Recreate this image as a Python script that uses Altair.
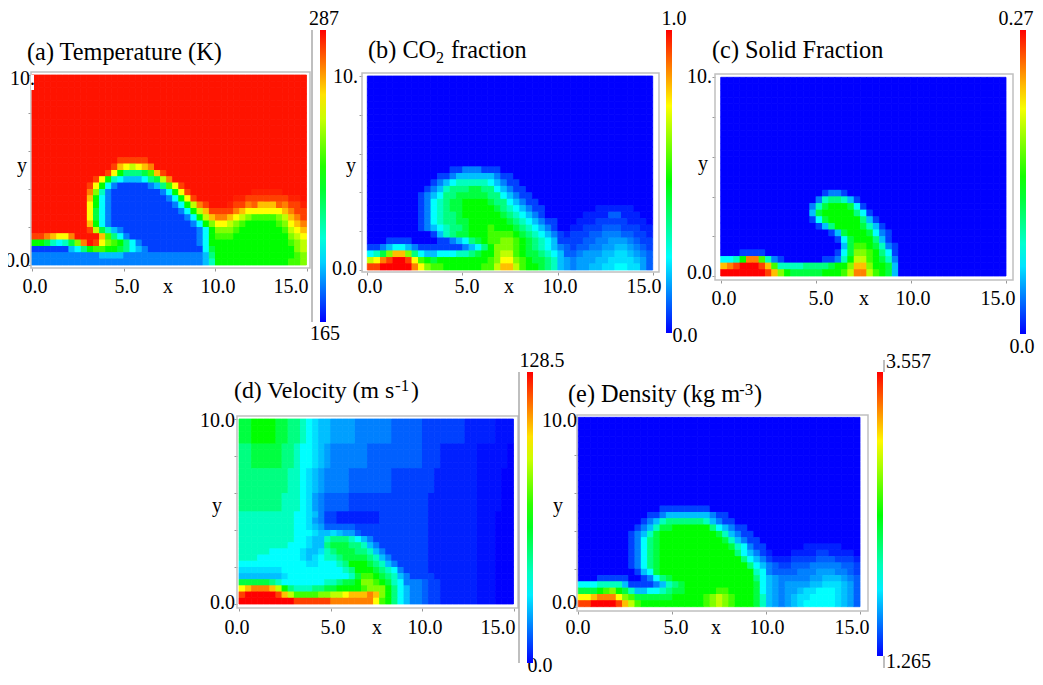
import altair as alt
import pandas as pd

# ---- field values, one character per cell (45 x 30 cells).
# Each character is a position on the panel's colour bar (see LEVELS); top row is y = 10.
TOP_G = "ggggggggggggggg ggggggggggggggg ggggggggggggggg"
TOP_0 = "000000000000000 000000000000000 000000000000000"

temperature_rows = [TOP_G] * 13 + [
    "ggggggggggggggf ffffggggggggggg ggggggggggggggg",
    "gggggggggggggfd cbcdegggggggggg ggggggggggggggg",
    "ggggggggggggfc8 66679dfgggggggg ggggggggggggggg",
    "ggggggggggfc854 333467beggggggg ggggggggggggggg",
    "gggggggggfc8421 11112369cfggggg ggggggggggggggg",
    "gggggggggea5211 111111248cfgggg gggggg^^^^^gggg",
    "gggggggggd84211 1111111248cfggg ggg^^fffffff^^g",
    "gggggggggc84211 11111111248befg gg^ffe!ddd!eff^",
    "gggggggggc74211 111111111248bdf fffedccccccdeff",
    "gggggggggc74211 1111111111248bd eedcba9999abdef",
    "gggggggggd84211 11111111111248a ccba9888889acde",
    "gggggggggfb7532 111111111111248 aaa98888888 9bcd",
    "ffedcceggggd964 211111111111248 999888888888abc",
    "8875457aegfca98 642111111111248 8888888888889ab",
    "111111346899887 643211111111147 8888888888888ab",
    "222222222223333 222222222222236 88888888888889a",
    "222222222222222 222222222222235 88888888888899a",
]

co2_rows = [TOP_0] * 14 + [
    "000000000000011 222111000000000 000000000000000",
    "000000000001123 333332110000000 000000000000000",
    "000000000012345 555543211000000 000000000000000",
    "000000000123566 677664321100000 000000000000000",
    "000000001234667 777766432110000 000000000000000",
    "000000001245677 888876643211000 000000000000000",
    "000000001245677 888887654321100 000000......000",
    "000000001245667 888888765432100 0000....::...00",
    "000000001245667 788888876543211 000...11111...0",
    "000000001234566 788898887654321 00..111:::111..",
    "000000000013567 788899998765432 1.111::222::11.",
    "000111100001123 467899aa9876543 1111::22;;;2:11",
    "112344321111111 23468aaa9876543 2:1::22;;33;2:1",
    "457adda64334445 56788abb9877654 3::2;;;33~~3;2:",
    "bcefggfc9878888 88889acca987765 3;2;;;33~~~~3;:",
    "ffgggggeca99888 88899bddb988765 3;2;;33~~44~~;:",
]

solid_rows = [TOP_0] * 17 + [
    "000000000000000 012210000000000 000000000000000",
    "000000000000000 256653100000000 000000000000000",
    "000000000000002 578887410000000 000000000000000",
    "000000000000003 788888641000000 000000000000000",
    "000000000000001 478888863100000 000000000000000",
    "000000000000000 136888875310000 000000000000000",
    "000000000000000 001378887421000 000000000000000",
    "000000000000000 000147888631000 000000000000000",
    "000000000000000 000037998752100 000000000000000",
    "000111100000000 000147aa9864100 000000000000000",
    "4458ee952100000 011258bb9875200 000000000000000",
    "defgggfd9555566 66788adda887300 000000000000000",
    "gggggggfda87777 78889beeb987300 000000000000000",
]

velocity_rows = [
    "778888776654~33 ;;;;222222::::: 1111111.....,,,",
    "778888776654~33 ;;;;222222::::: 1111111.....,,,",
    "778888776654~33 ;;;;222222::::: 1111111.....,,,",
    "778888776654~33 ;;;;222222::::: 1111111.....,,,",
    "667777766544~3; 222222::::::::: 111......,,,,,0",
    "667777766544~3; 222222::::::::: 111......,,,,,0",
    "667777766544~3; 222222::::::::: 111......,,,,,0",
    "667777766544~3; 222222::::::::: 111......,,,,,0",
    "66666666554~3;2 222:::::::11111 11.......,,,,00",
    "66666666554~3;2 222:::::::11111 11.......,,,,00",
    "66666666554~3;2 222:::::::11111 11.......,,,,00",
    "66666666554~3;2 222:::::::11111 11.......,,,,00",
    "66666665554~;2: :::111111111111 1........,,,,00",
    "66666665554~;2: :::111111111111 1........,,,,00",
    "66666665554~;2: :::111111111111 1........,,,,00",
    "55555555544~321 1.......1111111 1........,,,000",
    "55555555544~;21 1.......1111111 1........,,,000",
    "55555555544~3;: ::::11111111111 1........,,,000",
    "555555555444~33 ~3;;:1111111111 1........,,,000",
    "55555555544~335 666543211111111 1........,,,000",
    "55555555444~336 777665321111111 1........,,,000",
    "5555544444~33~5 677766532111111 1........,,,000",
    "5554444444~3~45 567777653211111 1........,,,000",
    "44444444444~~44 456888765321111 1........,,,000",
    "~~~~~~~44444444 445688876542111 1........,,,000",
    "3333333~4444444 444579987653211 11.......,,,000",
    "777776544444445 56778aa98754222 :11......,,,000",
    "cdeeedb86555667 788889aaa864322 :11......,,,000",
    "fgggggfdb9999aa bbcdddeda864322 :11......,,,000",
    "gggggggggffffff eeeeeeec9864322 :11......,,,000",
]

density_rows = [TOP_0] * 14 + [
    "000000000000011 111111000000000 000000000000000",
    "000000000001123 333333211000000 000000000000000",
    "000000000012356 666665321100000 000000000000000",
    "000000000123577 888888643211000 000000000000000",
    "000000001235788 888888875321100 000000000000000",
    "000000001246788 888888887532110 000000000000000",
    "000000001246788 888888888754211 000000......000",
    "000000001246788 888888888864321 .000....11....0",
    "000000001246788 888888888886432 1...1111:::111.",
    "000000001246788 888888888888643 2:11:::22222::1",
    "000000000134788 888888888888854 2::::222;;;22:1",
    "000111110012467 888888888888864 3;22222;;333;2:",
    "444555531111235 678888888888874 3;2;;;;33~~~3;:",
    "77789a875334456 778888899888874 3;2;;3~~444~3;:",
    "ccdeeeca9777777 888889aba988875 3;2;3~~4444~3;:",
    "ffggggfdb988888 888889aba988875 3;2;3~44444~3;:",
]

LEVELS = {ch: float(i) for i, ch in enumerate("0123456789abcdefg")}
LEVELS.update({",": 0.25, ".": 0.5, ":": 1.5, ";": 2.5, "~": 3.5, "!": 14.5, "^": 15.5})
COLOURS = ["#0000ff", "#00ffff", "#00ff00", "#ffff00", "#ff0000"]

# ---- layout, in page pixels
W, H, M = 1043, 685, 8
CW, CH = W - 2 * M, H - 2 * M
FONT = "Liberation Serif"
GREY = "#c0c0c0"
FS = 20

panels = [
    dict(name="a", rows=temperature_rows, lo=165, hi=287, peak=15.7,
         px=(32, 306.5), py=(265, 75), frame=(31, 72, 310, 268),
         bar=(320, 30, 292),
         extra_rules=[(312, 30, 322)],
         texts=[("(a) Temperature (K)", 27, 60, "left", 24.3),
                ("0.0", 35, 293, "center", FS), ("5.0", 127, 293, "center", FS),
                ("10.0", 218, 293, "center", FS), ("15.0", 291, 293, "center", FS),
                ("x", 168, 293, "center", FS), ("y", 22, 172, "center", FS),
                ("10.", 10, 85, "left", FS), ("0.0", 30, 267, "right", FS),
                ("287", 324, 25, "center", FS), ("165", 325, 340, "center", FS)]),
    dict(name="b", rows=co2_rows, lo=0.0, hi=1.0, peak=16,
         px=(367.3, 652.7), py=(270, 76), frame=(362, 73, 659, 272),
         bar=(666, 30, 303),
         extra_rules=[],
         texts=[("(b) CO", 368, 58, "left", 24.3), ("2", 436, 63, "left", 16),
                ("fraction", 451, 58, "left", 24.3),
                ("0.0", 370, 293, "center", FS), ("5.0", 467, 293, "center", FS),
                ("10.0", 560, 293, "center", FS), ("15.0", 644, 293, "center", FS),
                ("x", 509, 293, "center", FS), ("y", 351, 172, "center", FS),
                ("10.", 358, 83, "right", FS), ("0.0", 357, 275, "right", FS),
                ("1.0", 674, 25, "center", FS), ("0.0", 685, 342, "center", FS)]),
    dict(name="c", rows=solid_rows, lo=0.0, hi=0.27, peak=16,
         px=(720.7, 1006), py=(276, 77.3), frame=(715, 74, 1013, 280),
         bar=(1020, 30, 304),
         extra_rules=[],
         texts=[("(c) Solid Fraction", 712, 58, "left", 24.3),
                ("0.0", 724, 305, "center", FS), ("5.0", 821, 305, "center", FS),
                ("10.0", 913, 305, "center", FS), ("15.0", 998, 305, "center", FS),
                ("x", 864, 305, "center", FS), ("y", 703, 170, "center", FS),
                ("10.", 712, 83, "right", FS), ("0.0", 712, 279, "right", FS),
                ("0.27", 1016, 25, "center", FS), ("0.0", 1022, 353, "center", FS)]),
    dict(name="d", rows=velocity_rows, lo=0.0, hi=128.5, peak=16,
         px=(239, 513.5), py=(604, 419), frame=(237, 416, 518, 608),
         bar=(527, 372, 291),
         extra_rules=[(519, 372, 663)],
         texts=[("(d) Velocity (m s", 234, 398, "left", 23.8), ("-1", 395, 391, "left", 17),
                (")", 411, 398, "left", 23.8),
                ("0.0", 237, 634, "center", FS), ("5.0", 333, 634, "center", FS),
                ("10.0", 425, 634, "center", FS), ("15.0", 498, 634, "center", FS),
                ("x", 377, 634, "center", FS), ("y", 217, 512, "center", FS),
                ("10.0", 235, 427, "right", FS), ("0.0", 235, 609, "right", FS),
                ("128.5", 542, 367, "center", FS), ("0.0", 540, 672, "center", FS)]),
    dict(name="e", rows=density_rows, lo=1.265, hi=3.557, peak=16,
         px=(578.3, 860), py=(606.7, 417.3), frame=(577, 415, 868, 611),
         bar=(877, 372, 284),
         extra_rules=[(884, 360, 372), (884, 656, 668)],
         texts=[("(e) Density (kg m", 568, 402, "left", 24.3), ("-3", 739, 395, "left", 17),
                (")", 754, 402, "left", 24.3),
                ("0.0", 578, 634, "center", FS), ("5.0", 676, 634, "center", FS),
                ("10.0", 767, 634, "center", FS), ("15.0", 852, 634, "center", FS),
                ("x", 716, 634, "center", FS), ("y", 558, 512, "center", FS),
                ("10.0", 577, 427, "right", FS), ("0.0", 577, 609, "right", FS),
                ("3.557", 886, 368, "left", FS), ("1.265", 886, 668, "left", FS)]),
]


def table(rows, lo, hi, peak):
    recs = []
    for r, row in enumerate(rows):
        cells = row.replace(" ", "")
        cells = cells.ljust(45, cells[-1])[:45]
        for c, ch in enumerate(cells):
            recs.append(dict(x0=c / 3, x1=(c + 1) / 3,
                             y0=10 - (r + 1) / 3, y1=10 - r / 3,
                             v=lo + (hi - lo) * min(LEVELS[ch], peak) / 16))
    return pd.DataFrame(recs)


layers = []
for p in panels:
    fx0, fy0, fx1, fy1 = p["frame"]
    layers.append(
        alt.Chart().mark_rect(fillOpacity=0, stroke=GREY, strokeWidth=1.5).encode(
            x=alt.value(fx0 - M), x2=alt.value(fx1 - M),
            y=alt.value(fy0 - M), y2=alt.value(fy1 - M)))

    lo, hi = p["lo"], p["hi"]
    step = (hi - lo) / 4
    dom = [lo, lo + step, lo + 2 * step, lo + 3 * step, hi]
    bx, by, blen = p["bar"]
    xs = alt.Scale(domain=[0, 15], range=[p["px"][0] - M, p["px"][1] - M], nice=False, zero=False)
    ys = alt.Scale(domain=[0, 10], range=[p["py"][0] - M, p["py"][1] - M], nice=False, zero=False)
    cs = alt.Scale(domain=dom, range=COLOURS, interpolate="rgb")
    df = table(p["rows"], lo, hi, p["peak"])
    # same cells outlined underneath, so that no white seams show between them
    layers.append(
        alt.Chart(df).mark_rect(strokeWidth=0.8, fillOpacity=0).encode(
            x=alt.X("x0:Q", scale=xs, axis=None), x2="x1:Q",
            y=alt.Y("y0:Q", scale=ys, axis=None), y2="y1:Q",
            stroke=alt.Stroke("v:Q", scale=cs, legend=None)))
    layers.append(
        alt.Chart(df).mark_rect().encode(
            x=alt.X("x0:Q", scale=xs,
                    axis=alt.Axis(title=None, values=[0, 5, 10, 15], labels=False, domain=False,
                                  grid=False, ticks=True, tickSize=3, tickColor="#999999",
                                  orient="bottom", offset=fy1 - M - CH)),
            x2="x1:Q",
            y=alt.Y("y0:Q", scale=ys,
                    axis=alt.Axis(title=None, values=[0, 2, 4, 6, 8, 10], labels=False, domain=False,
                                  grid=False, ticks=True, tickSize=3, tickColor="#999999",
                                  orient="left", offset=-(fx0 - M))),
            y2="y1:Q",
            color=alt.Color("v:Q", scale=cs,
                            legend=alt.Legend(type="gradient", orient="none",
                                              legendX=bx - M, legendY=by - M,
                                              direction="vertical", title=None, padding=0,
                                              gradientLength=blen, gradientThickness=6,
                                              gradientStrokeWidth=0, labelExpr="''")),
        ))

    for rx, ry0, ry1 in p["extra_rules"]:
        layers.append(
            alt.Chart().mark_rule(color="#aaaaaa", strokeWidth=1.5).encode(
                x=alt.value(rx - M), y=alt.value(ry0 - M), y2=alt.value(ry1 - M)))

    for txt, tx, ty, al, fs in p["texts"]:
        layers.append(
            alt.Chart().mark_text(text=txt, font=FONT, fontSize=fs, align=al,
                                  baseline="alphabetic", color="black").encode(
                x=alt.value(tx - M), y=alt.value(ty - M)))

# white notch behind the clipped "10." label of panel (a)
layers.insert(4, alt.Chart().mark_rect(color="white").encode(
    x=alt.value(31 - M), x2=alt.value(34 - M), y=alt.value(75 - M), y2=alt.value(90 - M)))

chart = alt.layer(*layers).resolve_scale(
    x="independent", y="independent", color="independent", stroke="independent"
).resolve_axis(x="independent", y="independent").resolve_legend(color="independent").properties(
    width=CW, height=CH, padding=0,
    autosize=alt.AutoSizeParams(type="none"),
    background="white",
).configure_view(stroke=None)

chart.save("out.html", embed_options={"renderer": "svg", "actions": False})
